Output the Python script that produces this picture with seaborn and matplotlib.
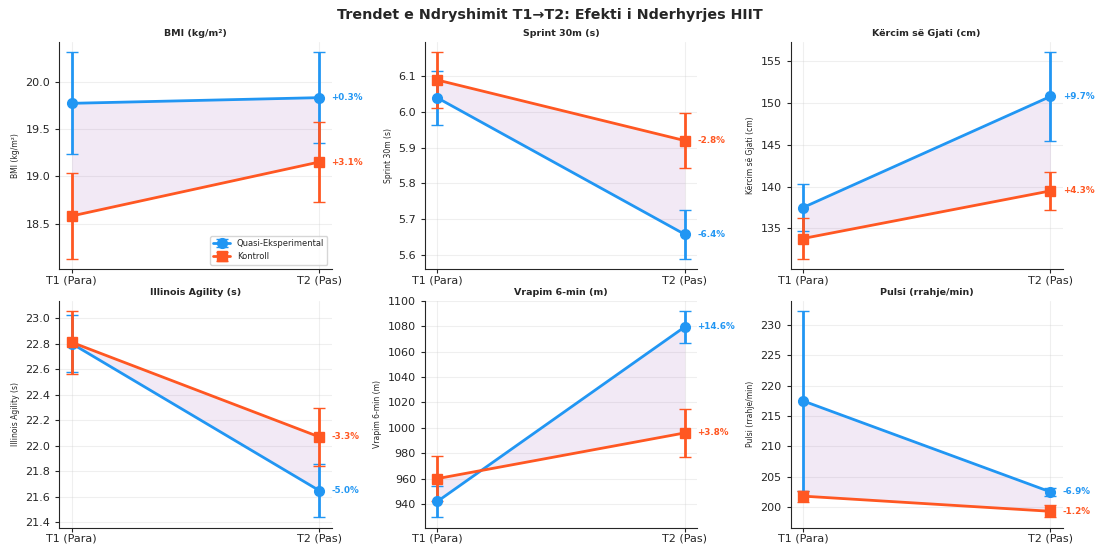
import numpy as np
import seaborn as sns
import matplotlib
matplotlib.use("Agg")
import matplotlib.pyplot as plt

# values (mean and sd per group, T1 -> T2)
time_labels = ["T1 (Para)", "T2 (Pas)"]
titles = ["BMI (kg/m²)", "Sprint 30m (s)", "Kërcim së Gjati (cm)",
          "Illinois Agility (s)", "Vrapim 6-min (m)", "Pulsi (rrahje/min)"]

exp_mean = [[19.77, 19.83], [6.04, 5.657], [137.5, 150.8],
            [22.80, 21.65], [942, 1079.5], [217.5, 202.5]]
exp_sd = [[0.54, 0.48], [0.075, 0.068], [2.8, 5.3],
          [0.22, 0.21], [12.5, 12.5], [14.8, 0.6]]
ctrl_mean = [[18.58, 19.15], [6.09, 5.92], [133.8, 139.5],
             [22.81, 22.07], [960, 996], [201.8, 199.3]]
ctrl_sd = [[0.45, 0.42], [0.078, 0.077], [2.4, 2.3],
           [0.245, 0.225], [18, 19], [0.9, 1.0]]

exp_pct = ["+0.3%", "-6.4%", "+9.7%", "-5.0%", "+14.6%", "-6.9%"]
ctrl_pct = ["+3.1%", "-2.8%", "+4.3%", "-3.3%", "+3.8%", "-1.2%"]

blue = "#2196F3"
orange = "#FF5722"

sns.set_style("ticks")
plt.rcParams['font.family'] = ['DejaVu Sans']

fig, axes = plt.subplots(2, 3, figsize=(10.99, 5.44), dpi=100)
fig.subplots_adjust(left=0.054, right=0.967, bottom=0.03, top=0.923,
                    wspace=0.343, hspace=0.14)

x = np.array([0, 1])
for i, ax in enumerate(axes.flat):
    ax.errorbar(x, exp_mean[i], yerr=exp_sd[i], fmt="-o", color=blue,
                lw=2, ms=7, capsize=4, elinewidth=2, capthick=1,
                label="Quasi-Eksperimental")
    ax.errorbar(x, ctrl_mean[i], yerr=ctrl_sd[i], fmt="-s", color=orange,
                lw=2, ms=7, capsize=4, elinewidth=2, capthick=1,
                label="Kontroll")
    ax.fill_between(x, exp_mean[i], ctrl_mean[i], color="#9b59b6", alpha=0.13, lw=0)

    ax.text(1.05, exp_mean[i][1], exp_pct[i], color=blue, fontsize=6.3,
            fontweight="bold", va="center", ha="left")
    ax.text(1.05, ctrl_mean[i][1], ctrl_pct[i], color=orange, fontsize=6.3,
            fontweight="bold", va="center", ha="left")

    ax.set_xticks(x)
    ax.set_xticklabels(time_labels, fontsize=8)
    ax.tick_params(axis="x", pad=1.5, length=3)
    ax.tick_params(axis="y", labelsize=8, length=3)
    ax.set_ylabel(titles[i], fontsize=5.5)
    ax.set_title(titles[i], fontsize=6.8, fontweight="bold", pad=4)
    ax.grid(True, alpha=0.3)
    sns.despine(ax=ax)

axes[0, 0].legend(loc="lower right", fontsize=6)
fig.suptitle("Trendet e Ndryshimit T1→T2: Efekti i Nderhyrjes HIIT",
             fontsize=10.3, fontweight="bold", y=0.985)

fig.savefig("out.png", dpi=100)
